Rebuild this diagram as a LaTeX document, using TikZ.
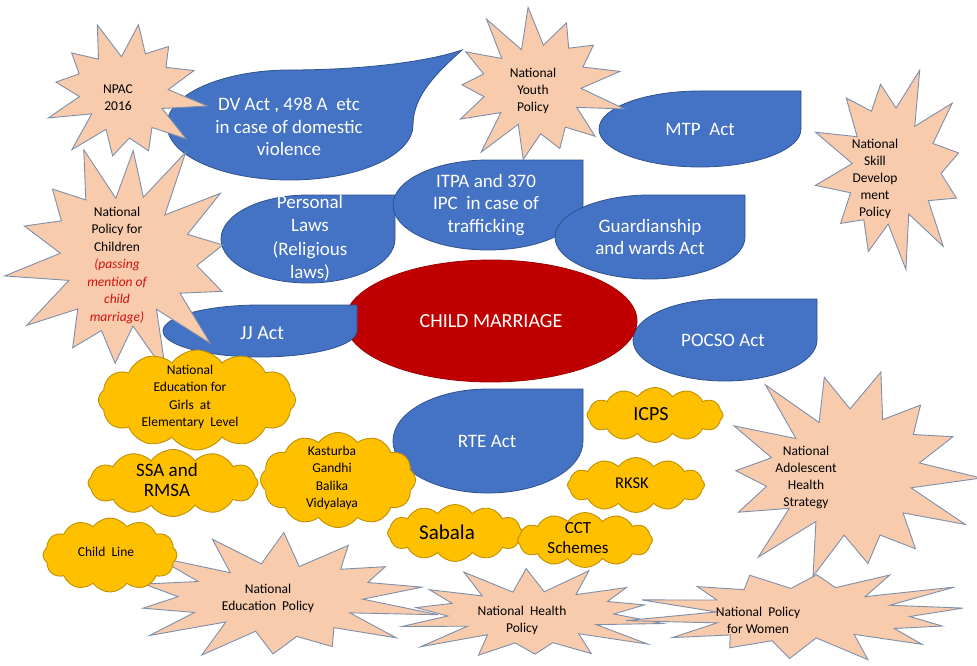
\documentclass[tikz,border=0pt]{standalone}
\usepackage{fontspec}
\setmainfont{Carlito}
\usetikzlibrary{shapes.symbols,shapes.geometric}
\definecolor{bfill}{HTML}{4472C4}
\definecolor{bline}{HTML}{2F528F}
\definecolor{peach}{HTML}{F8CBAD}
\definecolor{sline}{HTML}{7F8FAA}
\definecolor{yel}{HTML}{FFC000}
\definecolor{yline}{HTML}{BF9000}
\definecolor{cmred}{HTML}{C00000}
\definecolor{cmline}{HTML}{9E0000}
\definecolor{note}{HTML}{D01010}
\tikzset{
 blueshape/.style={fill=bfill,draw=bline,line width=0.8pt},
 burstshape/.style={fill=peach,draw=sline,line width=0.9pt,line join=miter},
 cloudshape/.style={cloud,cloud puffs=12,cloud puff arc=110,cloud ignores aspect,fill=yel,draw=yline,line width=0.9pt,inner sep=0pt},
 wlabel/.style={text=white,align=center,font=\fontsize{19}{22.5}\selectfont,inner sep=0pt},
 slabel/.style={text=black,align=center,font=\fontsize{13.5}{17}\selectfont,inner sep=0pt},
 blabel/.style={text=black,align=center,font=\fontsize{19}{20}\selectfont,inner sep=0pt},
}
\newcommand\tear[4]{\filldraw[blueshape] ({#1+#3},{#2}) arc[start angle=0,end angle=270,x radius=#3,y radius=#4] -- ({#1+#3},{#2-#4}) -- cycle;}
\newcommand\burst[7]{\filldraw[burstshape] plot[samples at={0,...,#6}] ({#1+#3*bf(\x,#7)*cos(\x*360/(#6+1)+#5)},{#2+#4*bf(\x,#7)*sin(\x*360/(#6+1)+#5)}) -- cycle;}
\begin{document}
\begin{tikzpicture}[x=1pt,y=-1pt,declare function={bf(\ii,\pp)=(0.8+0.2*cos(180*\ii))*(1+0.11*sin(\ii*137+\pp));}]
\useasboundingbox[fill=white] (0,0) rectangle (977,666);
% blue shapes
\filldraw[blueshape] (413,125) arc[start angle=0,end angle=270,x radius=123,y radius=55] .. controls (350,70) and (420,64) .. (462,50) .. controls (438,72) and (413,95) .. (413,125) -- cycle;
\node[wlabel] (dv) at (289,127) {DV Act , 498 A~~etc\\in case of domestic\\violence};
\tear{308}{239}{87}{44}
\node[wlabel,font=\fontsize{19}{23.5}\selectfont] (personal) at (310,238) {Personal\\Laws\\(Religious\\laws)};
\tear{488}{205}{95}{45}
\node[wlabel] (itpa) at (486,205) {ITPA and 370\\IPC~~in case of\\trafficking};
\tear{650}{237}{95}{42}
\node[wlabel] (guard) at (650,237) {Guardianship\\and wards Act};
\tear{700}{129}{101}{38}
\node[wlabel] (mtp) at (700,129) {MTP~~Act};
\tear{725}{340}{92}{41}
\node[wlabel] (pocso) at (723,340) {POCSO Act};
\node[ellipse,fill=cmred,draw=cmline,line width=0.8pt,minimum width=292pt,minimum height=122pt,text=white,font=\fontsize{20}{24}\selectfont] (cm) at (491,321) {CHILD MARRIAGE};
\tear{260}{331}{97}{26}
\node[wlabel,font=\fontsize{20}{24}\selectfont] (jj) at (262,333) {JJ Act};
\tear{488}{441}{95}{52}
\node[wlabel] (rte) at (487,441) {RTE Act};
% starbursts
\burst{125}{93}{76}{68}{-80}{23}{10}
\node[slabel] (npac) at (118,98) {NPAC\\2016};
\burst{536}{87}{83}{73}{-95}{25}{60}
\node[slabel] (nyp) at (533,91) {National\\Youth\\Policy};
\burst{892}{168}{74}{95}{-70}{23}{120}
\node[slabel] (nsdp) at (875,179) {National\\Skill\\Develop\\ment\\Policy};
\burst{124}{259}{110}{113}{-85}{27}{200}
\node[slabel,font=\fontsize{13.5}{17.5}\selectfont] (npc) at (117,265) {National\\Policy for\\Children\\\textcolor{note}{\itshape (passing}\\\textcolor{note}{\itshape mention of}\\\textcolor{note}{\itshape child}\\\textcolor{note}{\itshape marriage)}};
\burst{847}{474}{124}{100}{-75}{27}{30}
\node[slabel] (nahs) at (806,477) {National\\Adolescent\\Health\\Strategy};
\burst{278}{598}{150}{59}{-88}{27}{90}
\node[slabel] (nep) at (268,598) {National\\Education~~Policy};
\burst{531}{615}{131}{44}{-92}{27}{150}
\node[slabel] (nhp) at (522,620) {National~~Health\\Policy};
\burst{804}{614}{163}{44}{-85}{27}{250}
\node[slabel] (npw) at (758,620) {National~~Policy\\for Women};
% clouds
\node[cloudshape,minimum width=197pt,minimum height=100pt] (cgirls) at (197,400) {};
\node[slabel,font=\fontsize{13.5}{17.5}\selectfont] (girls) at (190,397) {National\\Education for\\Girls~~at\\Elementary~~Level};
\node[cloudshape,minimum width=170pt,minimum height=67pt] (cssa) at (173,483) {};
\node[blabel] (ssa) at (167,480) {SSA and\\RMSA};
\node[cloudshape,minimum width=155pt,minimum height=95pt] (ckast) at (338,480) {};
\node[slabel,font=\fontsize{13.5}{17.5}\selectfont] (kast) at (332,478) {Kasturba\\Gandhi\\Balika\\Vidyalaya};
\node[cloudshape,minimum width=134pt,minimum height=74pt] (cchild) at (110,555) {};
\node[slabel] (child) at (106,552) {Child~~Line};
\node[cloudshape,minimum width=135pt,minimum height=57pt] (csabala) at (455,533) {};
\node[blabel,font=\fontsize{21}{22}\selectfont] (sabala) at (447,532) {Sabala};
\node[cloudshape,minimum width=135pt,minimum height=55pt] (ccct) at (585,540) {};
\node[blabel,font=\fontsize{17}{20}\selectfont] (cct) at (578,538) {CCT\\Schemes};
\node[cloudshape,minimum width=136pt,minimum height=55pt] (cicps) at (655,415) {};
\node[blabel,font=\fontsize{20}{22}\selectfont] (icps) at (651,414) {ICPS};
\node[cloudshape,minimum width=137pt,minimum height=55pt] (crksk) at (636,485) {};
\node[blabel,font=\fontsize{16.5}{20}\selectfont] (rksk) at (632,483) {RKSK};
\end{tikzpicture}
\end{document}
